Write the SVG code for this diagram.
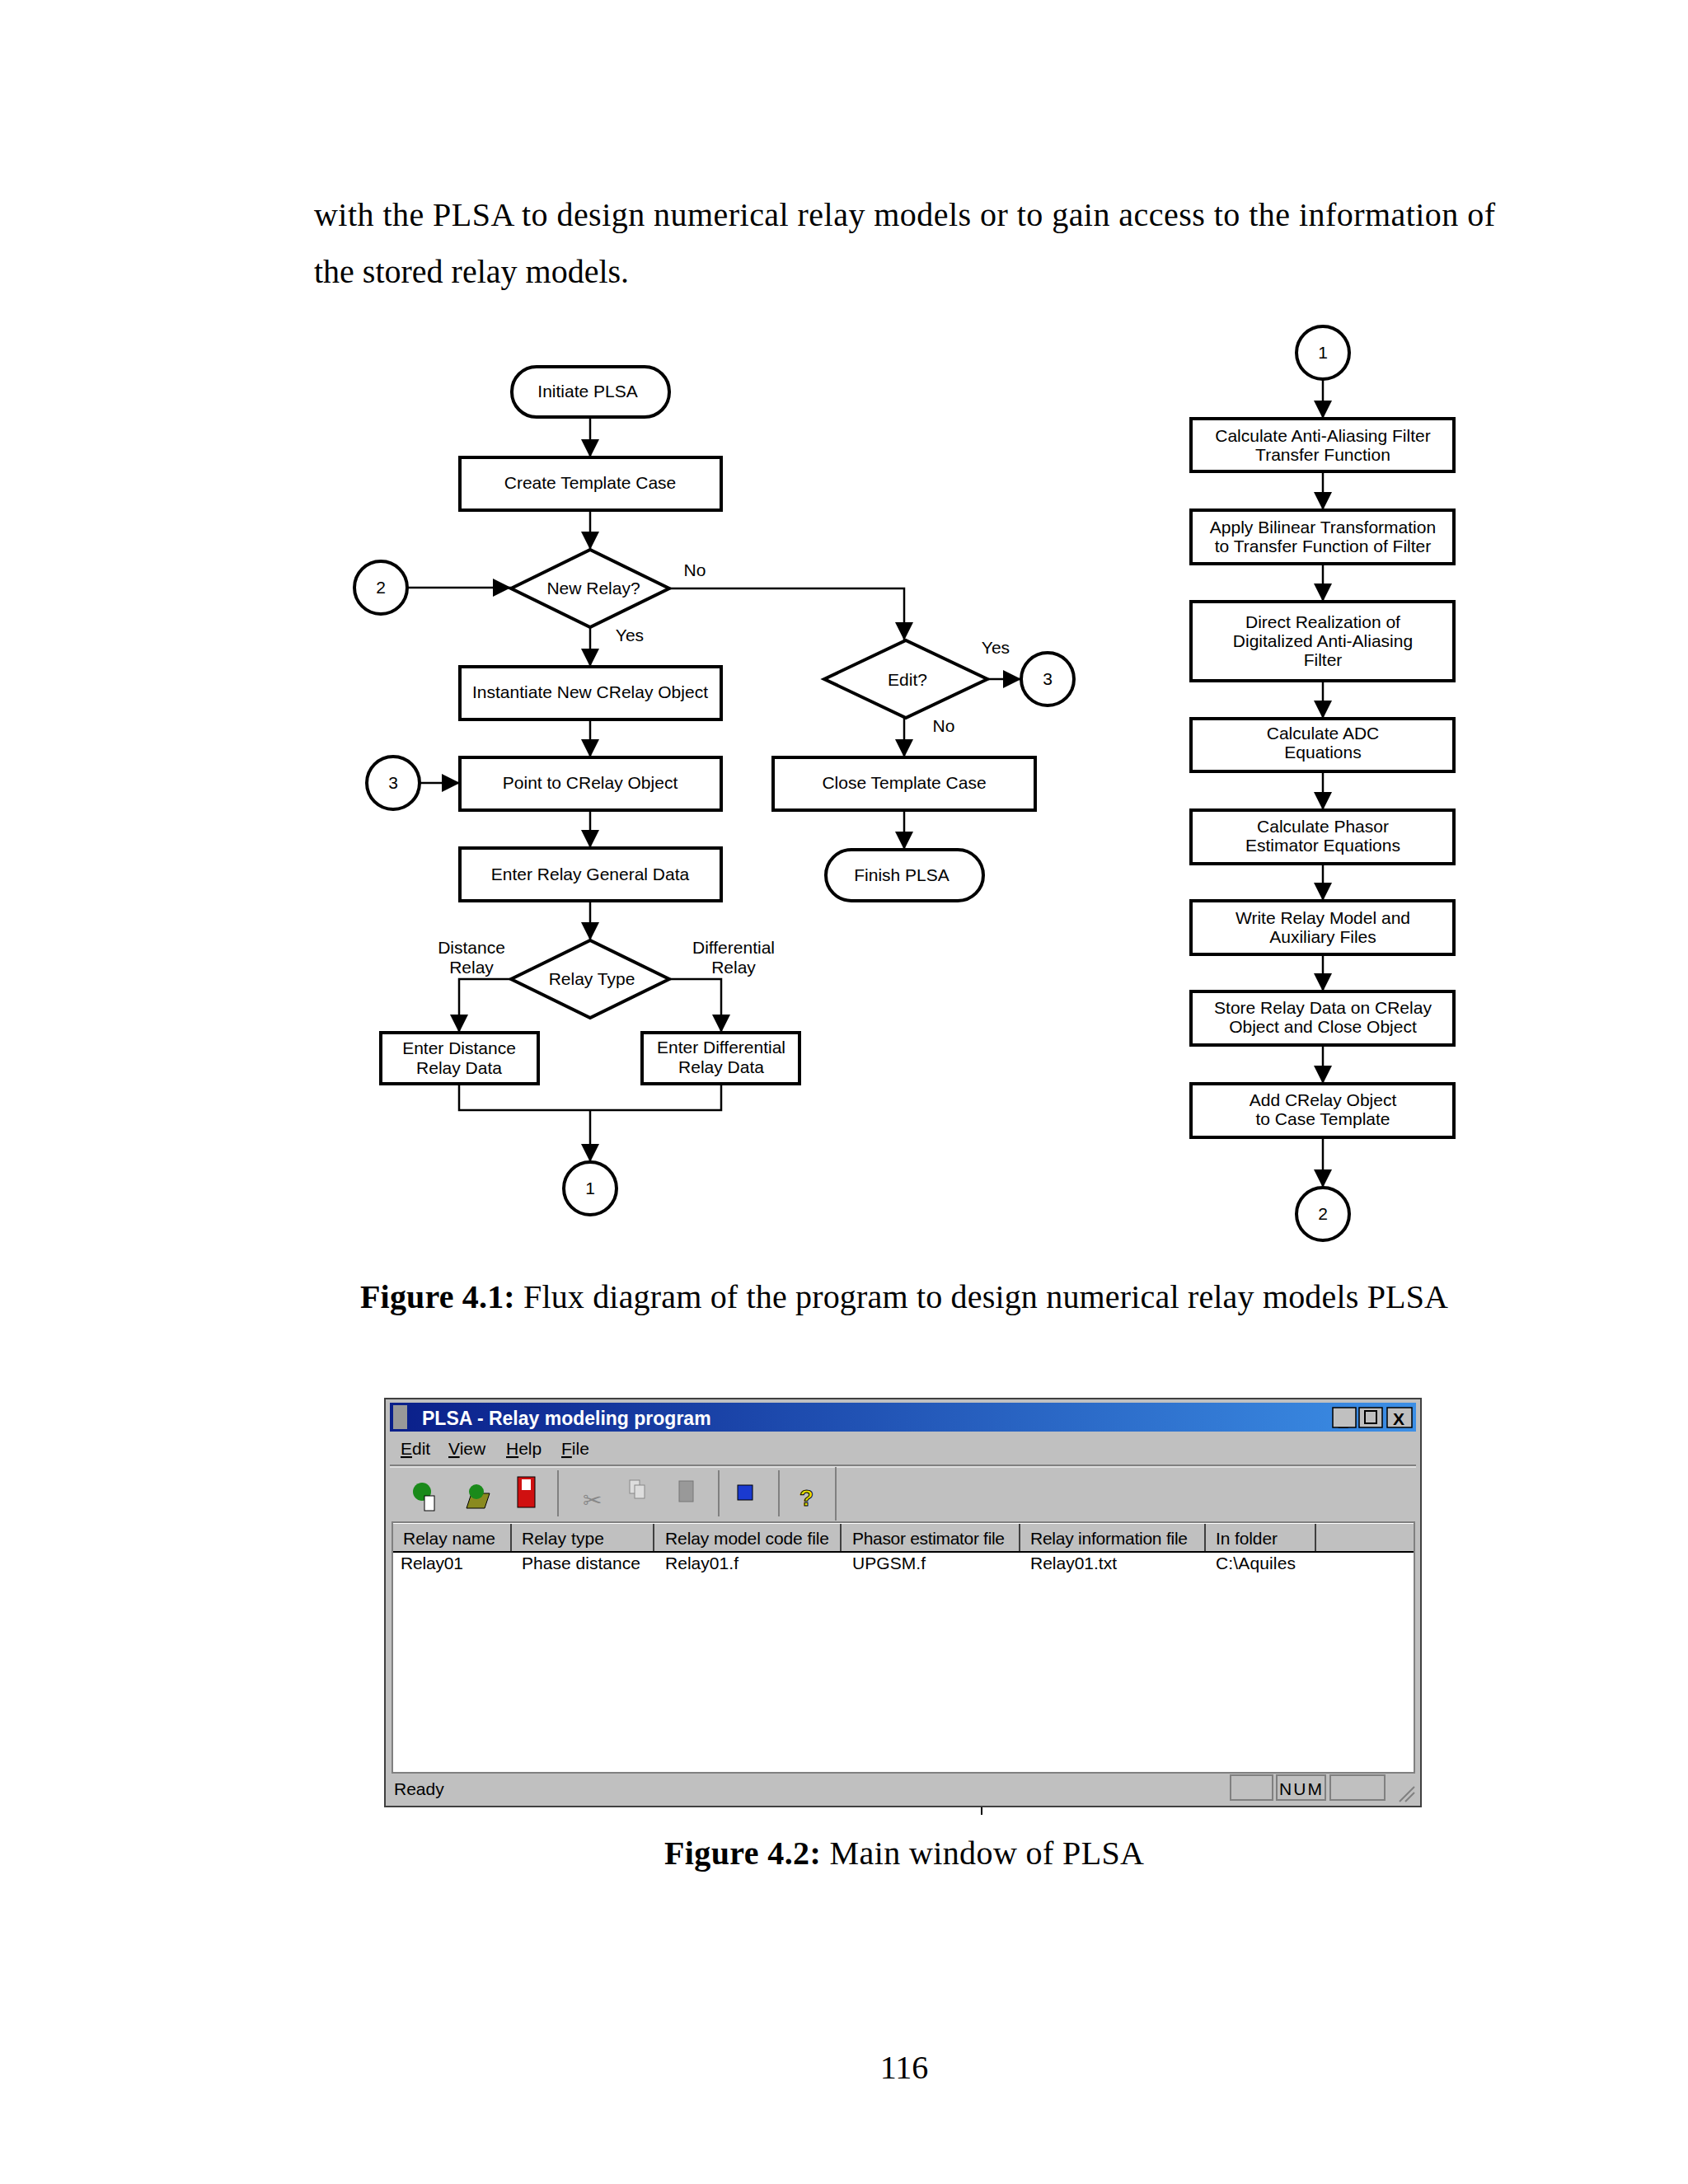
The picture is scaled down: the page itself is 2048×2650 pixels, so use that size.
<svg xmlns="http://www.w3.org/2000/svg" width="2048" height="2650" viewBox="0 0 2048 2650">
<style>
.b{fill:#fff;stroke:#000;stroke-width:4}
.c{fill:none;stroke:#000;stroke-width:2.5}
.t{font-family:"Liberation Sans",Arial,sans-serif;font-size:21px;text-anchor:middle;fill:#000}
.tm{font-family:"Liberation Serif","Times New Roman",serif;font-size:40px;fill:#000}
.w{font-family:"Liberation Sans",Arial,sans-serif;font-size:21px;fill:#000}
</style>
<defs>
<marker id="ah" viewBox="0 0 10 10" refX="10" refY="5" markerWidth="22" markerHeight="22" markerUnits="userSpaceOnUse" orient="auto"><path d="M0,0 L10,5 L0,10 z"/></marker>
<linearGradient id="tb" x1="0" x2="1"><stop offset="0" stop-color="#0a1f8a"/><stop offset="1" stop-color="#3c8fe6"/></linearGradient></defs>
<rect width="2048" height="2650" fill="#fff"/>
<text class="tm" x="381" y="274" textLength="1433" lengthAdjust="spacing">with the PLSA to design numerical relay models or to gain access to the information of</text>
<text class="tm" x="381" y="343">the stored relay models.</text>

<g id="connectors" class="c" marker-end="url(#ah)">
<path d="M716,506 V555"/><path d="M716,619 V667"/>
<path d="M494,713 H620"/>
<path d="M716,761 V809"/><path d="M716,873 V919"/><path d="M509,950 H558"/><path d="M716,983 V1029"/><path d="M716,1093 V1141"/>
<path d="M812,714 H1097 V777"/>
<path d="M1198,824 H1239"/>
<path d="M1097,871 V919"/><path d="M1097,983 V1031"/>
<path d="M620,1188 H557 V1253"/><path d="M812,1188 H875 V1253"/>
<path d="M557,1315 V1347 H875 V1315" marker-end="none"/><path d="M716,1347 V1410"/>
<path d="M1605,460 V508"/><path d="M1605,572 V619"/><path d="M1605,684 V730"/><path d="M1605,826 V872"/><path d="M1605,936 V983"/><path d="M1605,1048 V1093"/><path d="M1605,1158 V1203"/><path d="M1605,1268 V1315"/><path d="M1605,1380 V1441"/>
</g>

<g id="initiate"><rect class="b" x="621" y="445" width="191" height="61" rx="30"/><text class="t" x="713" y="482">Initiate PLSA</text></g>
<g id="create"><rect class="b" x="558" y="555" width="317" height="64"/><text class="t" x="716" y="593">Create Template Case</text></g>
<g id="newrelay"><polygon class="b" points="620,714 716,667 812,714 716,761"/><text class="t" x="720" y="721">New Relay?</text></g>
<g id="c2a"><circle class="b" cx="462" cy="713" r="32"/><text class="t" x="462" y="720">2</text></g>
<text class="t" x="843" y="699">No</text><text class="t" x="764" y="778">Yes</text>
<g id="inst"><rect class="b" x="558" y="809" width="317" height="64"/><text class="t" x="716" y="847">Instantiate New CRelay Object</text></g>
<g id="point"><rect class="b" x="558" y="919" width="317" height="64"/><text class="t" x="716" y="957">Point to CRelay Object</text></g>
<g id="c3a"><circle class="b" cx="477" cy="950" r="32"/><text class="t" x="477" y="957">3</text></g>
<g id="general"><rect class="b" x="558" y="1029" width="317" height="64"/><text class="t" x="716" y="1068">Enter Relay General Data</text></g>
<g id="type"><polygon class="b" points="620,1188 716,1141 812,1188 716,1235"/><text class="t" x="718" y="1195">Relay Type</text></g>
<text class="t" x="572" y="1157">Distance</text><text class="t" x="572" y="1181">Relay</text>
<text class="t" x="890" y="1157">Differential</text><text class="t" x="890" y="1181">Relay</text>
<g id="dist"><rect class="b" x="462" y="1253" width="191" height="62"/><text class="t" x="557" y="1279">Enter Distance</text><text class="t" x="557" y="1303">Relay Data</text></g>
<g id="diff"><rect class="b" x="779" y="1253" width="191" height="62"/><text class="t" x="875" y="1278">Enter Differential</text><text class="t" x="875" y="1302">Relay Data</text></g>
<g id="c1a"><circle class="b" cx="716" cy="1442" r="32"/><text class="t" x="716" y="1449">1</text></g>
<g id="edit"><polygon class="b" points="1000,824 1099,777 1198,824 1099,871"/><text class="t" x="1101" y="832">Edit?</text></g>
<text class="t" x="1208" y="793">Yes</text><text class="t" x="1145" y="888">No</text>
<g id="c3b"><circle class="b" cx="1271" cy="824" r="32"/><text class="t" x="1271" y="831">3</text></g>
<g id="close"><rect class="b" x="938" y="919" width="318" height="64"/><text class="t" x="1097" y="957">Close Template Case</text></g>
<g id="finish"><rect class="b" x="1002" y="1031" width="191" height="62" rx="31"/><text class="t" x="1094" y="1069">Finish  PLSA</text></g>

<g id="c1b"><circle class="b" cx="1605" cy="428" r="32"/><text class="t" x="1605" y="435">1</text></g>
<g id="r1"><rect class="b" x="1445" y="508" width="319" height="64"/><text class="t" x="1605" y="536">Calculate Anti-Aliasing Filter</text><text class="t" x="1605" y="559">Transfer Function</text></g>
<g id="r2"><rect class="b" x="1445" y="619" width="319" height="65"/><text class="t" x="1605" y="647">Apply Bilinear Transformation</text><text class="t" x="1605" y="670">to Transfer Function of Filter</text></g>
<g id="r3"><rect class="b" x="1445" y="730" width="319" height="96"/><text class="t" x="1605" y="762">Direct Realization of</text><text class="t" x="1605" y="785">Digitalized Anti-Aliasing</text><text class="t" x="1605" y="808">Filter</text></g>
<g id="r4"><rect class="b" x="1445" y="872" width="319" height="64"/><text class="t" x="1605" y="897">Calculate ADC</text><text class="t" x="1605" y="920">Equations</text></g>
<g id="r5"><rect class="b" x="1445" y="983" width="319" height="65"/><text class="t" x="1605" y="1010">Calculate Phasor</text><text class="t" x="1605" y="1033">Estimator Equations</text></g>
<g id="r6"><rect class="b" x="1445" y="1093" width="319" height="65"/><text class="t" x="1605" y="1121">Write Relay Model and</text><text class="t" x="1605" y="1144">Auxiliary Files</text></g>
<g id="r7"><rect class="b" x="1445" y="1203" width="319" height="65"/><text class="t" x="1605" y="1230">Store Relay Data on CRelay</text><text class="t" x="1605" y="1253">Object and Close Object</text></g>
<g id="r8"><rect class="b" x="1445" y="1315" width="319" height="65"/><text class="t" x="1605" y="1342">Add CRelay Object</text><text class="t" x="1605" y="1365">to Case Template</text></g>
<g id="c2b"><circle class="b" cx="1605" cy="1473" r="32"/><text class="t" x="1605" y="1480">2</text></g>

<text class="tm" x="437" y="1587" textLength="1320" lengthAdjust="spacing"><tspan font-weight="bold">Figure 4.1:</tspan>  Flux diagram of the program to design numerical relay models PLSA</text>

<rect x="467" y="1697" width="1257" height="495" fill="#c0c0c0" stroke="#404040" stroke-width="2"/>
<rect x="473" y="1702" width="1245" height="35" fill="url(#tb)"/>
<rect x="477" y="1705" width="17" height="29" fill="#999"/>
<text x="512" y="1729" font-family="'Liberation Sans',Arial,sans-serif" font-size="23" font-weight="bold" fill="#fff">PLSA - Relay modeling program</text>
<g fill="#c0c0c0" stroke="#000" stroke-width="1.5"><rect x="1617" y="1708" width="28" height="24"/><rect x="1649" y="1708" width="28" height="24"/><rect x="1683" y="1708" width="30" height="24"/></g>
<text class="w" x="1624" y="1730" font-weight="bold">_</text><rect x="1656" y="1712" width="14" height="15" fill="none" stroke="#000" stroke-width="2"/><text class="w" x="1690" y="1729" font-weight="bold">X</text>
<g class="w"><text x="486" y="1765"><tspan text-decoration="underline">E</tspan>dit</text><text x="544" y="1765"><tspan text-decoration="underline">V</tspan>iew</text><text x="614" y="1765"><tspan text-decoration="underline">H</tspan>elp</text><text x="681" y="1765"><tspan text-decoration="underline">F</tspan>ile</text></g>
<line x1="473" y1="1778" x2="1718" y2="1778" stroke="#808080" stroke-width="2"/>
<line x1="473" y1="1780" x2="1718" y2="1780" stroke="#fff" stroke-width="1"/>
<g stroke="#808080" stroke-width="2"><line x1="677" y1="1784" x2="677" y2="1840"/><line x1="872" y1="1784" x2="872" y2="1840"/><line x1="945" y1="1784" x2="945" y2="1840"/><line x1="1014" y1="1780" x2="1014" y2="1845"/></g>
<circle cx="512" cy="1810" r="11" fill="#1a8a1a"/><rect x="515" y="1815" width="12" height="18" fill="#fff" stroke="#000"/>
<polygon points="566,1830 572,1812 594,1812 588,1830" fill="#8a8a20" stroke="#000"/><circle cx="578" cy="1810" r="9" fill="#1a8a1a"/>
<rect x="628" y="1792" width="21" height="37" fill="#d01010" stroke="#000"/><rect x="633" y="1795" width="11" height="13" fill="#fff"/>
<text x="707" y="1830" font-family="'DejaVu Sans',sans-serif" font-size="28" fill="#888">✂</text>
<rect x="764" y="1796" width="12" height="16" fill="#ddd" stroke="#888"/><rect x="770" y="1802" width="12" height="16" fill="#ddd" stroke="#888"/>
<rect x="824" y="1797" width="17" height="25" fill="#999" stroke="#777"/>
<rect x="895" y="1802" width="18" height="18" fill="#1a3ad0" stroke="#000"/>
<text x="970" y="1827" font-family="'Liberation Sans',sans-serif" font-size="28" font-weight="bold" fill="#e8e000" stroke="#000" stroke-width="1">?</text>
<rect x="476" y="1847" width="1240" height="304" fill="#fff" stroke="#808080" stroke-width="2"/>
<rect x="477" y="1849" width="1238" height="33" fill="#c0c0c0"/>
<line x1="477" y1="1883" x2="1715" y2="1883" stroke="#000" stroke-width="2"/>
<g stroke="#404040" stroke-width="2"><line x1="620" y1="1849" x2="620" y2="1882"/><line x1="793" y1="1849" x2="793" y2="1882"/><line x1="1020" y1="1849" x2="1020" y2="1882"/><line x1="1237" y1="1849" x2="1237" y2="1882"/><line x1="1462" y1="1849" x2="1462" y2="1882"/><line x1="1596" y1="1849" x2="1596" y2="1882"/></g>
<g class="w"><text x="489" y="1874" textLength="112">Relay name</text><text x="633" y="1874" textLength="100">Relay type</text><text x="807" y="1874" textLength="199">Relay model code file</text><text x="1034" y="1874" textLength="185">Phasor estimator file</text><text x="1250" y="1874" textLength="191">Relay information file</text><text x="1475" y="1874" textLength="75">In folder</text>
<text x="486" y="1904" textLength="76">Relay01</text><text x="633" y="1904" textLength="144">Phase distance</text><text x="807" y="1904" textLength="89">Relay01.f</text><text x="1034" y="1904" textLength="89">UPGSM.f</text><text x="1250" y="1904" textLength="105">Relay01.txt</text><text x="1475" y="1904" textLength="97">C:\Aquiles</text>
<text x="478" y="2178">Ready</text><text x="1552" y="2178" textLength="52">NUM</text></g>
<g fill="none" stroke="#808080" stroke-width="2"><rect x="1493" y="2154" width="51" height="30"/><rect x="1549" y="2154" width="59" height="30"/><rect x="1614" y="2154" width="66" height="30"/></g>
<path d="M1698,2186 L1716,2168 M1705,2186 L1716,2175" stroke="#808080" stroke-width="2"/>
<line x1="1191" y1="2193" x2="1191" y2="2202" stroke="#000" stroke-width="2"/>

<text class="tm" x="806" y="2262" textLength="582" lengthAdjust="spacing"><tspan font-weight="bold">Figure 4.2:</tspan>  Main window of PLSA</text>
<text class="tm" x="1097" y="2522" text-anchor="middle">116</text>
</svg>
